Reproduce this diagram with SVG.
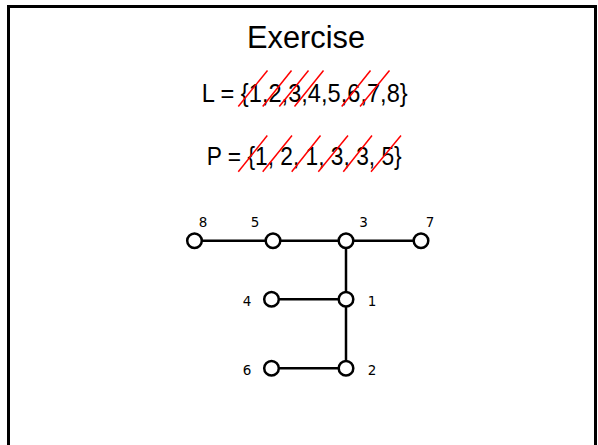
<svg xmlns="http://www.w3.org/2000/svg" width="598" height="445" viewBox="0 0 598 445">
<style>
.big{font-family:"Liberation Sans",Arial,sans-serif;fill:#000}
.lbl{font-family:"DejaVu Sans",Verdana,sans-serif;font-size:13.5px;fill:#000}
.node circle{fill:#fff;stroke:#000;stroke-width:2.5}
.edge{stroke:#000;stroke-width:2.5;fill:none}
.strike{stroke:#f00;stroke-width:1.5;fill:none}
</style>
<rect x="8.5" y="6.5" width="587" height="460" fill="#fff" stroke="#000" stroke-width="3"/>
<text class="big" x="306" y="47.5" font-size="31" text-anchor="middle" textLength="118" lengthAdjust="spacingAndGlyphs">Exercise</text>
<text class="big" x="201.7" y="102" font-size="25" textLength="206" lengthAdjust="spacingAndGlyphs">L = {1,2,3,4,5,6,7,8}</text>
<text class="big" x="206.7" y="165" font-size="25" textLength="195" lengthAdjust="spacingAndGlyphs">P = {1, 2, 1, 3, 3, 5}</text>
<g id="strikes-L">
<line class="strike" x1="238.3" y1="106.5" x2="267.5" y2="70.5"/>
<line class="strike" x1="262.7" y1="106.5" x2="291.5" y2="70.5"/>
<line class="strike" x1="279.3" y1="106.5" x2="308.5" y2="70.5"/>
<line class="strike" x1="294.5" y1="106.5" x2="323.5" y2="70.5"/>
<line class="strike" x1="341.7" y1="106.5" x2="370.5" y2="70.5"/>
<line class="strike" x1="360" y1="106.5" x2="389.5" y2="70.5"/>
</g>
<g id="strikes-P">
<line class="strike" x1="238.3" y1="171.7" x2="267.3" y2="135.5"/>
<line class="strike" x1="262.7" y1="171.7" x2="292" y2="135.5"/>
<line class="strike" x1="291.7" y1="171.7" x2="320.5" y2="135.5"/>
<line class="strike" x1="318.3" y1="171.7" x2="348" y2="135.5"/>
<line class="strike" x1="343.3" y1="171.7" x2="372" y2="135.5"/>
<line class="strike" x1="371" y1="171.7" x2="401" y2="135.5"/>
</g>
<g id="connectors">
<line class="edge" x1="194.5" y1="240.7" x2="421" y2="240.7"/>
<line class="edge" x1="346" y1="240.7" x2="346" y2="368.3"/>
<line class="edge" x1="271.5" y1="299.3" x2="346" y2="299.3"/>
<line class="edge" x1="271.5" y1="368.3" x2="346" y2="368.3"/>
</g>
<g id="node8" class="node"><circle cx="194.5" cy="240.7" r="7.3"/><text class="lbl" x="203" y="226.5" text-anchor="middle">8</text></g>
<g id="node5" class="node"><circle cx="273" cy="240.7" r="7.3"/><text class="lbl" x="255" y="226.5" text-anchor="middle">5</text></g>
<g id="node3" class="node"><circle cx="346" cy="240.7" r="7.3"/><text class="lbl" x="363.5" y="226.5" text-anchor="middle">3</text></g>
<g id="node7" class="node"><circle cx="421" cy="240.7" r="7.3"/><text class="lbl" x="430" y="226.5" text-anchor="middle">7</text></g>
<g id="node4" class="node"><circle cx="271.5" cy="299.3" r="7.3"/><text class="lbl" x="247" y="305.5" text-anchor="middle">4</text></g>
<g id="node1" class="node"><circle cx="346" cy="299.3" r="7.3"/><text class="lbl" x="372" y="305.5" text-anchor="middle">1</text></g>
<g id="node6" class="node"><circle cx="271.5" cy="368.3" r="7.3"/><text class="lbl" x="247" y="374.5" text-anchor="middle">6</text></g>
<g id="node2" class="node"><circle cx="346" cy="368.3" r="7.3"/><text class="lbl" x="372" y="374.5" text-anchor="middle">2</text></g>
</svg>
